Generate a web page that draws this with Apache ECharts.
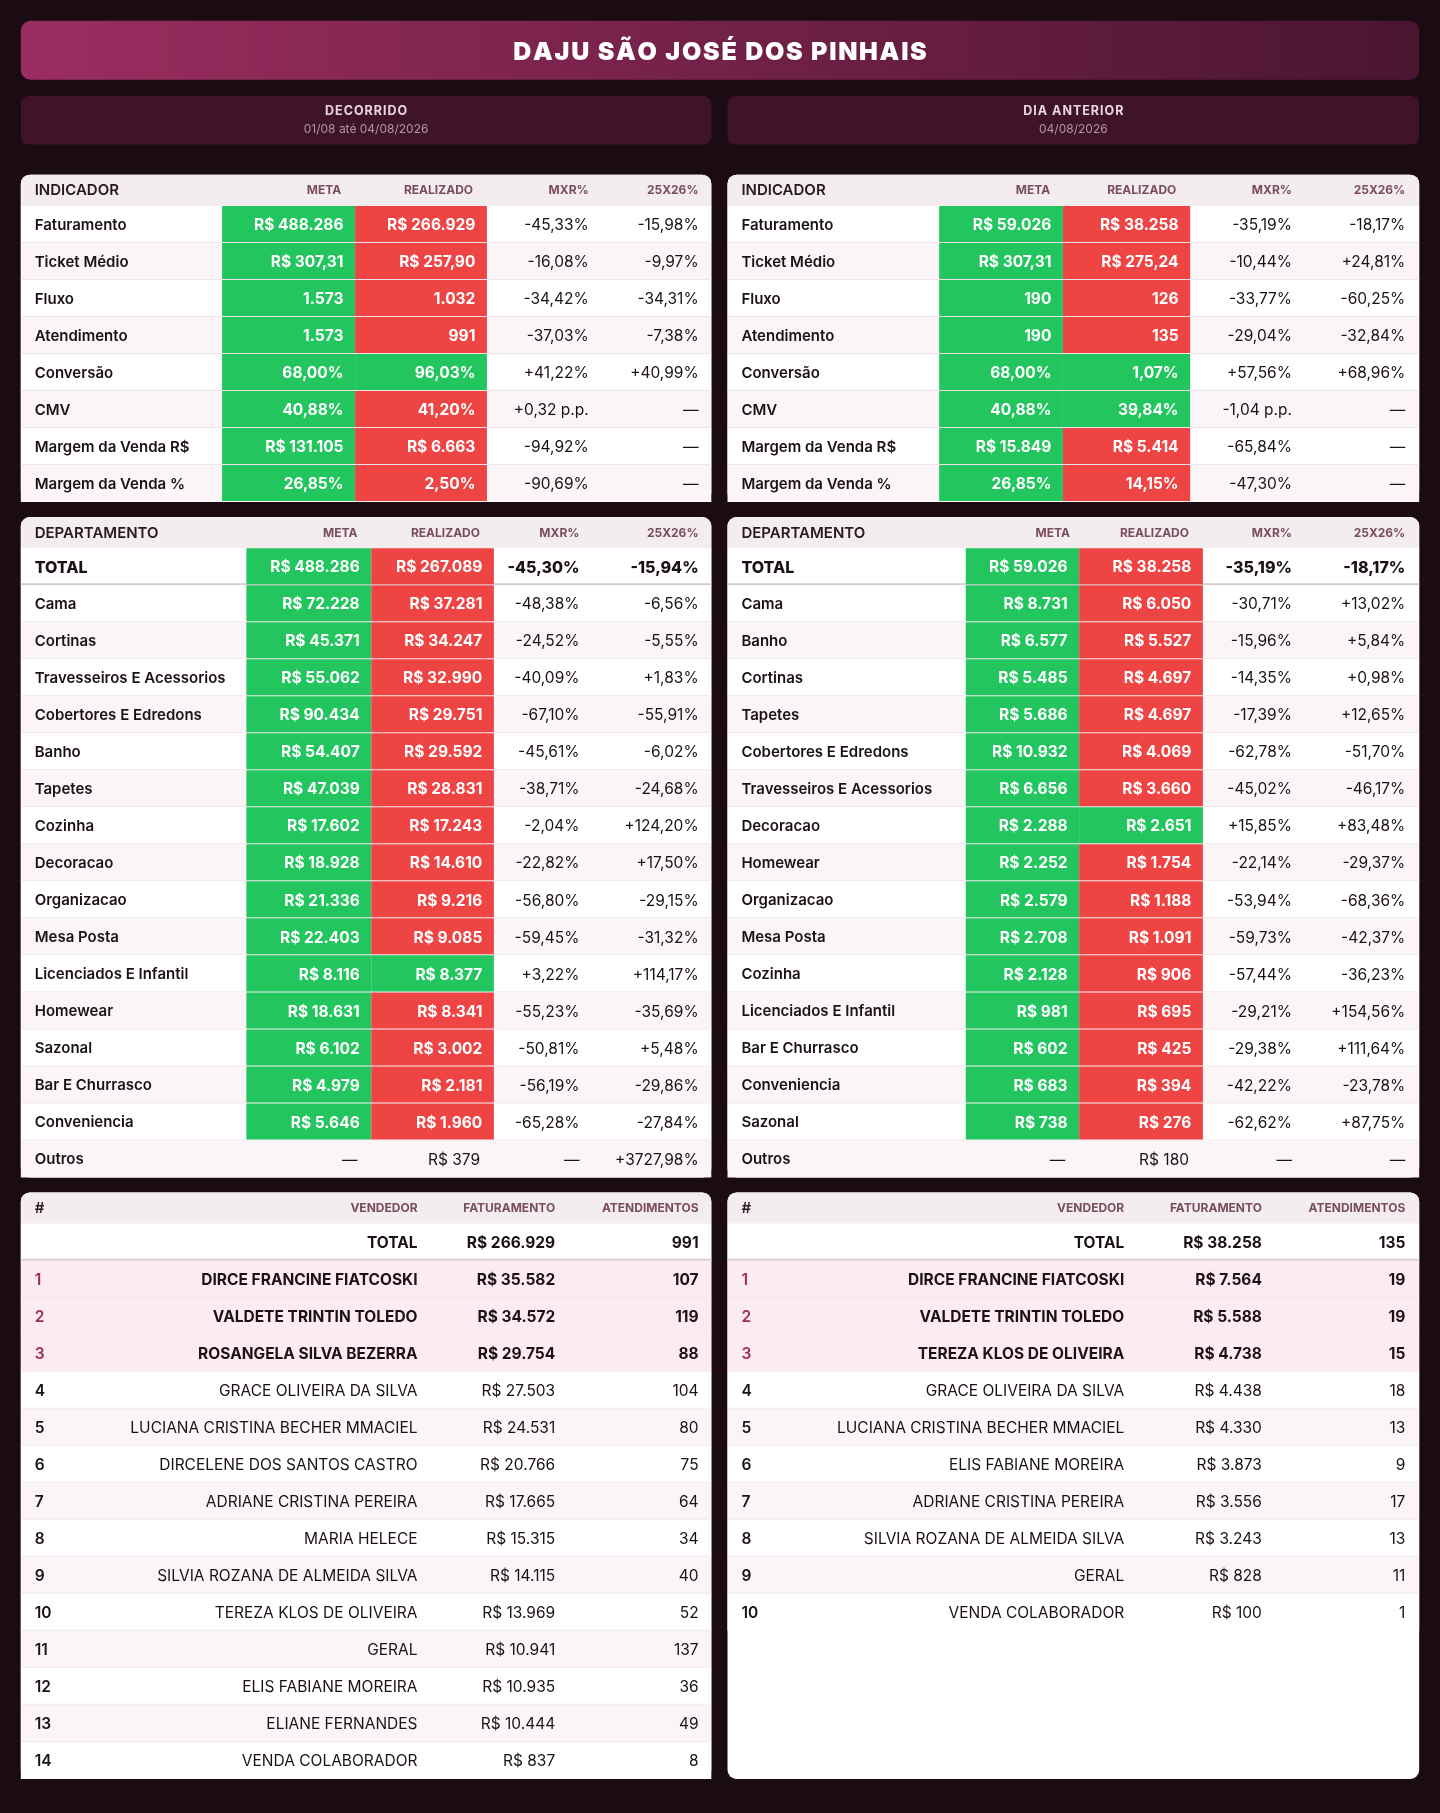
<!DOCTYPE html><html><head><meta charset="utf-8">
<script src="https://cdn.jsdelivr.net/npm/echarts@6/dist/echarts.min.js"></script>
<style>html,body{margin:0;background:#1a0c12}#c{width:1440px;height:1813px}</style></head><body><div id="c"></div><script>
const S=1440/1245;
const title='DAJU SÃO JOSÉ DOS PINHAIS';
const subLeft=['DECORRIDO','01/08 até 04/08/2026'];
const subRight=['DIA ANTERIOR','04/08/2026'];
const indHeader=['INDICADOR','META','REALIZADO','MXR%','25X26%'];
const depHeader=['DEPARTAMENTO','META','REALIZADO','MXR%','25X26%'];
const venHeader=['#','VENDEDOR','FATURAMENTO','ATENDIMENTOS'];
const indLabels=['Faturamento','Ticket Médio','Fluxo','Atendimento','Conversão','CMV','Margem da Venda R$','Margem da Venda %'];
const decIndMeta=['R$ 488.286','R$ 307,31','1.573','1.573','68,00%','40,88%','R$ 131.105','26,85%'];
const decIndReal=['R$ 266.929','R$ 257,90','1.032','991','96,03%','41,20%','R$ 6.663','2,50%'];
const decIndMxr=['-45,33%','-16,08%','-34,42%','-37,03%','+41,22%','+0,32 p.p.','-94,92%','-90,69%'];
const decIndYoy=['-15,98%','-9,97%','-34,31%','-7,38%','+40,99%','—','—','—'];
const decIndOk=[0,0,0,0,1,0,0,0];
const antIndMeta=['R$ 59.026','R$ 307,31','190','190','68,00%','40,88%','R$ 15.849','26,85%'];
const antIndReal=['R$ 38.258','R$ 275,24','126','135','1,07%','39,84%','R$ 5.414','14,15%'];
const antIndMxr=['-35,19%','-10,44%','-33,77%','-29,04%','+57,56%','-1,04 p.p.','-65,84%','-47,30%'];
const antIndYoy=['-18,17%','+24,81%','-60,25%','-32,84%','+68,96%','—','—','—'];
const antIndOk=[0,0,0,0,1,1,0,0];
const decDepLabels=['TOTAL','Cama','Cortinas','Travesseiros E Acessorios','Cobertores E Edredons','Banho','Tapetes','Cozinha','Decoracao','Organizacao','Mesa Posta','Licenciados E Infantil','Homewear','Sazonal','Bar E Churrasco','Conveniencia','Outros'];
const decDepMeta=['R$ 488.286','R$ 72.228','R$ 45.371','R$ 55.062','R$ 90.434','R$ 54.407','R$ 47.039','R$ 17.602','R$ 18.928','R$ 21.336','R$ 22.403','R$ 8.116','R$ 18.631','R$ 6.102','R$ 4.979','R$ 5.646','—'];
const decDepReal=['R$ 267.089','R$ 37.281','R$ 34.247','R$ 32.990','R$ 29.751','R$ 29.592','R$ 28.831','R$ 17.243','R$ 14.610','R$ 9.216','R$ 9.085','R$ 8.377','R$ 8.341','R$ 3.002','R$ 2.181','R$ 1.960','R$ 379'];
const decDepMxr=['-45,30%','-48,38%','-24,52%','-40,09%','-67,10%','-45,61%','-38,71%','-2,04%','-22,82%','-56,80%','-59,45%','+3,22%','-55,23%','-50,81%','-56,19%','-65,28%','—'];
const decDepYoy=['-15,94%','-6,56%','-5,55%','+1,83%','-55,91%','-6,02%','-24,68%','+124,20%','+17,50%','-29,15%','-31,32%','+114,17%','-35,69%','+5,48%','-29,86%','-27,84%','+3727,98%'];
const antDepLabels=['TOTAL','Cama','Banho','Cortinas','Tapetes','Cobertores E Edredons','Travesseiros E Acessorios','Decoracao','Homewear','Organizacao','Mesa Posta','Cozinha','Licenciados E Infantil','Bar E Churrasco','Conveniencia','Sazonal','Outros'];
const antDepMeta=['R$ 59.026','R$ 8.731','R$ 6.577','R$ 5.485','R$ 5.686','R$ 10.932','R$ 6.656','R$ 2.288','R$ 2.252','R$ 2.579','R$ 2.708','R$ 2.128','R$ 981','R$ 602','R$ 683','R$ 738','—'];
const antDepReal=['R$ 38.258','R$ 6.050','R$ 5.527','R$ 4.697','R$ 4.697','R$ 4.069','R$ 3.660','R$ 2.651','R$ 1.754','R$ 1.188','R$ 1.091','R$ 906','R$ 695','R$ 425','R$ 394','R$ 276','R$ 180'];
const antDepMxr=['-35,19%','-30,71%','-15,96%','-14,35%','-17,39%','-62,78%','-45,02%','+15,85%','-22,14%','-53,94%','-59,73%','-57,44%','-29,21%','-29,38%','-42,22%','-62,62%','—'];
const antDepYoy=['-18,17%','+13,02%','+5,84%','+0,98%','+12,65%','-51,70%','-46,17%','+83,48%','-29,37%','-68,36%','-42,37%','-36,23%','+154,56%','+111,64%','-23,78%','+87,75%','—'];
const decVenNames=['TOTAL','DIRCE FRANCINE FIATCOSKI','VALDETE TRINTIN TOLEDO','ROSANGELA SILVA BEZERRA','GRACE OLIVEIRA DA SILVA','LUCIANA CRISTINA BECHER MMACIEL','DIRCELENE DOS SANTOS CASTRO','ADRIANE CRISTINA PEREIRA','MARIA HELECE','SILVIA ROZANA DE ALMEIDA SILVA','TEREZA KLOS DE OLIVEIRA','GERAL','ELIS FABIANE MOREIRA','ELIANE FERNANDES','VENDA COLABORADOR'];
const decVenFat=['R$ 266.929','R$ 35.582','R$ 34.572','R$ 29.754','R$ 27.503','R$ 24.531','R$ 20.766','R$ 17.665','R$ 15.315','R$ 14.115','R$ 13.969','R$ 10.941','R$ 10.935','R$ 10.444','R$ 837'];
const decVenAt=['991','107','119','88','104','80','75','64','34','40','52','137','36','49','8'];
const antVenNames=['TOTAL','DIRCE FRANCINE FIATCOSKI','VALDETE TRINTIN TOLEDO','TEREZA KLOS DE OLIVEIRA','GRACE OLIVEIRA DA SILVA','LUCIANA CRISTINA BECHER MMACIEL','ELIS FABIANE MOREIRA','ADRIANE CRISTINA PEREIRA','SILVIA ROZANA DE ALMEIDA SILVA','GERAL','VENDA COLABORADOR'];
const antVenFat=['R$ 38.258','R$ 7.564','R$ 5.588','R$ 4.738','R$ 4.438','R$ 4.330','R$ 3.873','R$ 3.556','R$ 3.243','R$ 828','R$ 100'];
const antVenAt=['135','19','19','15','18','13','9','17','13','11','1'];

const G='#22c55e',R='#ef4444',TXT='#1c1216',F='Inter',BFS=15.5;
const num=s=>parseFloat(s.replace(/[^\d,]/g,'').replace(',','.'));
const alt=i=>i%2?'#fbf5f8':'#ffffff';

function indRows(meta,real,mxr,yoy,ok,c){return indLabels.map((l,i)=>({bg:alt(i),cells:[
 {t:l,x:12,a:'left',w:600,fs:15},
 {t:meta[i],x1:c.m[0],x2:c.m[1],bg:G,col:'#fff',w:700},
 {t:real[i],x1:c.r[0],x2:c.r[1],bg:ok[i]?G:R,col:'#fff',w:700},
 {t:mxr[i],x:c.x,a:'right'},{t:yoy[i],x:c.y,a:'right'}]}));}
function depRows(lab,meta,real,mxr,yoy,c){return lab.map((l,i)=>{
 const tot=i===0,out=l==='Outros';
 const ok=!out&&num(real[i])>=num(meta[i]);
 return {bg:tot?'#fff':alt(i+1),line:tot?'#d9c9d0':null,cells:[
 {t:l,x:12,a:'left',w:tot?800:600,fs:tot?16:15},
 out?{t:meta[i],x:c.m[1]-12,a:'right'}:{t:meta[i],x1:c.m[0],x2:c.m[1],bg:G,col:'#fff',w:700},
 out?{t:real[i],x:c.r[1]-12,a:'right'}:{t:real[i],x1:c.r[0],x2:c.r[1],bg:ok?G:R,col:'#fff',w:700},
 {t:mxr[i],x:c.x,a:'right',w:tot?800:400,fs:tot?16:null},{t:yoy[i],x:c.y,a:'right',w:tot?800:400,fs:tot?16:null}]};});}
function venRows(names,fat,at){return names.map((n,i)=>{
 const tot=i===0,top=i>0&&i<=3;
 return {bg:tot?'#fff':top?'#fcecf1':alt(i),line:tot?'#d9c9d0':null,cells:[
 {t:tot?'':String(i),x:12,a:'left',col:top?'#a02a5c':TXT,w:600},
 {t:n,x:343,a:'right',w:tot||top?700:400},
 {t:fat[i],x:462,a:'right',w:tot||top?700:400},
 {t:at[i],x:586,a:'right',w:tot||top?700:400}]};});}

const tables=[
 {px:18,w:597,top:151,rows:indRows(decIndMeta,decIndReal,decIndMxr,decIndYoy,decIndOk,{m:[174,289],r:[289,403],x:491,y:586}),head:indHeader,hx:[12,277,391,491,586],ph:283},
 {px:629,w:598,top:151,rows:indRows(antIndMeta,antIndReal,antIndMxr,antIndYoy,antIndOk,{m:[183,290],r:[290,400],x:488,y:586}),head:indHeader,hx:[12,279,388,488,586],ph:283},
 {px:18,w:597,top:447,rows:depRows(decDepLabels,decDepMeta,decDepReal,decDepMxr,decDepYoy,{m:[195,303],r:[303,409],x:483,y:586}),head:depHeader,hx:[12,291,397,483,586],ph:571},
 {px:629,w:598,top:447,rows:depRows(antDepLabels,antDepMeta,antDepReal,antDepMxr,antDepYoy,{m:[206,304],r:[304,411],x:488,y:586}),head:depHeader,hx:[12,296,399,488,586],ph:571},
 {px:18,w:597,top:1031,rows:venRows(decVenNames,decVenFat,decVenAt),head:venHeader,hx:[12,343,462,586],ph:507},
 {px:629,w:598,top:1031,rows:venRows(antVenNames,antVenFat,antVenAt),head:venHeader,hx:[12,343,462,586],ph:507}
];
const HH=27,RH=32;
const grid=[],xAxis=[],yAxis=[],series=[];
const graphic=[
 {type:'rect',shape:{x:0,y:0,width:1440,height:1813},style:{fill:'#1a0c12'},z:0},
 {type:'rect',shape:{x:18*S,y:18*S,width:1209*S,height:51*S,r:10},style:{fill:new echarts.graphic.LinearGradient(0,0,1,0,[{offset:0,color:'#9b2d60'},{offset:1,color:'#4a1530'}])},z:1},
 {type:'text',x:622.5*S,y:45*S,style:{text:title.split('').join('\u200A'),fill:'#fff',font:`900 25px ${F}`,align:'center',verticalAlign:'middle'},z:2}
];
[[18,597,subLeft],[629,598,subRight]].forEach(([x,w,t])=>{
 graphic.push({type:'rect',shape:{x:x*S,y:83*S,width:w*S,height:42*S,r:8},style:{fill:'#3e1426'},z:1});
 graphic.push({type:'text',x:(x+w/2)*S,y:96.5*S,style:{text:t[0].split('').join('\u200A'),fill:'#ead6df',font:`700 12.5px ${F}`,align:'center',verticalAlign:'middle'},z:2});
 graphic.push({type:'text',x:(x+w/2)*S,y:111.5*S,style:{text:t[1],fill:'#b8949f',font:`400 12px ${F}`,align:'center',verticalAlign:'middle'},z:2});
});
tables.forEach((tb,k)=>{
 graphic.push({type:'rect',shape:{x:tb.px*S,y:tb.top*S,width:tb.w*S,height:tb.ph*S,r:9},style:{fill:'#fff'},z:1});
 graphic.push({type:'rect',shape:{x:tb.px*S,y:tb.top*S,width:tb.w*S,height:HH*S,r:[9,9,0,0]},style:{fill:'#f4edf0'},z:2});
 tb.head.forEach((h,j)=>{
  const first=j===0;
  graphic.push({type:'text',x:(tb.px+tb.hx[j])*S,y:(tb.top+HH/2+0.5)*S,style:{text:h,fill:first?'#2a1820':'#7a4c60',font:first?`600 15px ${F}`:`700 12px ${F}`,align:first?'left':'right',verticalAlign:'middle'},z:3});
 });
 const n=tb.rows.length;
 grid.push({left:tb.px*S,top:(tb.top+HH)*S,width:tb.w*S,height:n*RH*S});
 xAxis.push({type:'value',gridIndex:k,min:0,max:tb.w,show:false});
 yAxis.push({type:'category',gridIndex:k,data:tb.rows.map((r,i)=>i),inverse:true,show:false});
 series.push({type:'custom',xAxisIndex:k,yAxisIndex:k,z:5,silent:true,
  data:tb.rows.map((r,i)=>[0,i]),
  renderItem:(p,api)=>{
   const i=api.value(1),row=tb.rows[i];
   const h=api.size([0,1])[1],c0=api.coord([0,i]),top=c0[1]-h/2,cy=c0[1]+1;
   const X=v=>api.coord([v,i])[0];
   const ch=[{type:'rect',shape:{x:X(0),y:top,width:X(tb.w)-X(0),height:h},style:{fill:row.bg}}];
   if(i<n-1||row.line) ch.push({type:'rect',shape:{x:X(0),y:top+h-(row.line?2:1),width:X(tb.w)-X(0),height:row.line?2:1},style:{fill:row.line||'#efe4e9'}});
   row.cells.forEach(c=>{
    const fs=(c.fs||BFS);
    const font=`${c.w||400} ${fs}px ${F}`;
    if(c.bg){
     ch.push({type:'rect',shape:{x:X(c.x1),y:top,width:X(c.x2)-X(c.x1),height:h-1},style:{fill:c.bg}});
     ch.push({type:'text',x:X(c.x2-10),y:cy,style:{text:c.t,fill:c.col,font,align:'right',verticalAlign:'middle'}});
    } else {
     ch.push({type:'text',x:X(c.x),y:cy,style:{text:c.t,fill:c.col||TXT,font,align:c.a,verticalAlign:'middle'}});
    }
   });
   return {type:'group',children:ch};
  }});
});
const chart=echarts.init(document.getElementById('c'));
chart.setOption({animation:false,grid,xAxis,yAxis,series,graphic:{elements:graphic}});
</script></body></html>
